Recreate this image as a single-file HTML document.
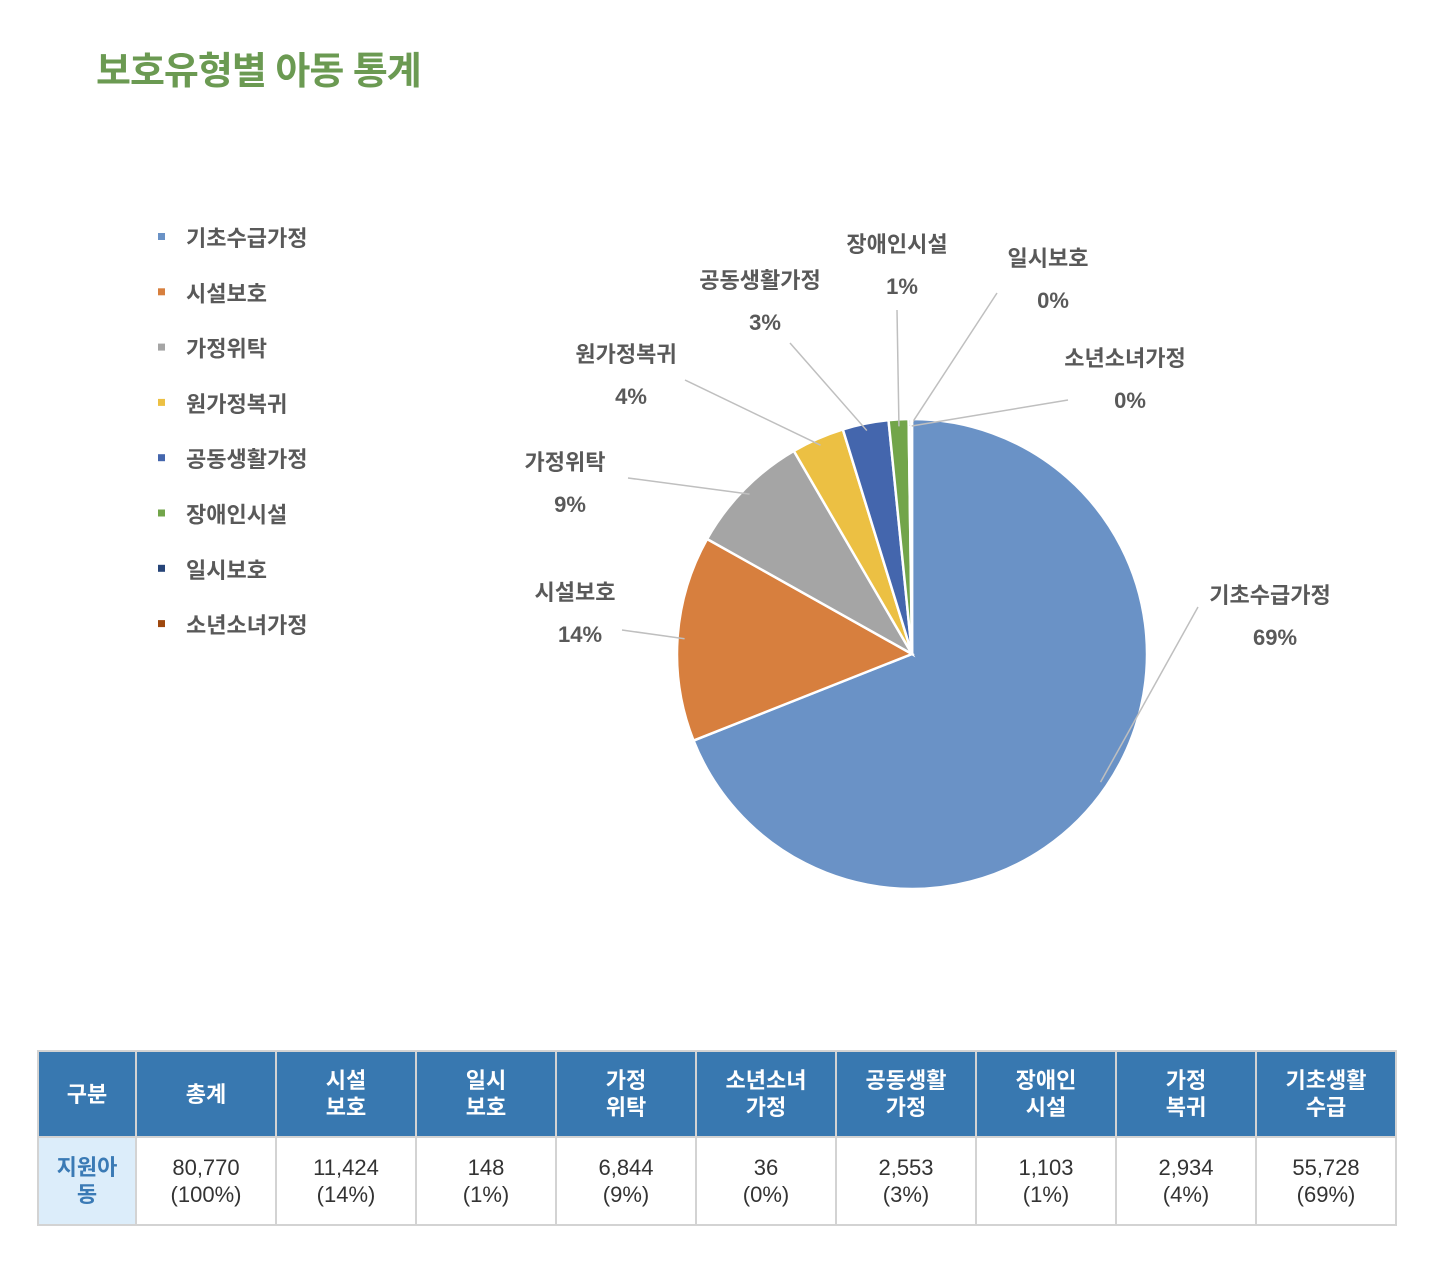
<!DOCTYPE html>
<html><head><meta charset="utf-8"><style>
body{margin:0;width:1436px;height:1274px;background:#fff;font-family:"Liberation Sans","Noto Sans CJK KR",sans-serif;position:relative;overflow:hidden}
#title{position:absolute;left:96px;top:40px;font-size:38px;font-weight:bold;color:#6b9a52;letter-spacing:-1px}
table{position:absolute;left:37px;top:1050px;border-collapse:collapse;table-layout:fixed}
td,th{border:2px solid #d3d3d3;text-align:center;font-size:22px;line-height:27px;padding:0}
th{background:#3878b0;color:#fff;height:84px;font-weight:bold}
td{height:86px;color:#333}
td.first{background:#dcedfa;color:#3a7ab5;font-weight:bold}
</style></head><body>
<div id="title">보호유형별 아동 통계</div>
<svg id="chart" width="1436" height="1000" style="position:absolute;left:0;top:0"></svg>
<table>
<colgroup><col style="width:98px"><col span="9" style="width:140px"></colgroup>
<tr><th>구분</th><th>총계</th><th>시설<br>보호</th><th>일시<br>보호</th><th>가정<br>위탁</th><th>소년소녀<br>가정</th><th>공동생활<br>가정</th><th>장애인<br>시설</th><th>가정<br>복귀</th><th>기초생활<br>수급</th></tr>
<tr><td class="first">지원아<br>동</td><td>80,770<br>(100%)</td><td>11,424<br>(14%)</td><td>148<br>(1%)</td><td>6,844<br>(9%)</td><td>36<br>(0%)</td><td>2,553<br>(3%)</td><td>1,103<br>(1%)</td><td>2,934<br>(4%)</td><td>55,728<br>(69%)</td></tr>
</table>
<script>
const categories=["기초수급가정","시설보호","가정위탁","원가정복귀","공동생활가정","장애인시설","일시보호","소년소녀가정"];
const values=[55728,11424,6844,2934,2553,1103,148,36];
const pctLabels=["69%","14%","9%","4%","3%","1%","0%","0%"];
const colors=["#6a92c6","#d77f3e","#a5a5a5","#ecc043","#4466ad","#72a54a","#264478","#9e480e"];
// label layout (positions only)
const labelPos=[[1270,603,1198,607],[575,600,622,630],[565,470,628,478],[626,362,685,380],[760,288,790,343],[897,252,897,310],[1048,266,997,293],[1125,366,1068,400]];
const NS="http://www.w3.org/2000/svg",svg=document.getElementById('chart');
const cx=912,cy=654,r=235;
const total=values.reduce((a,b)=>a+b,0);
function pt(a,rr){return [cx+rr*Math.sin(a),cy-rr*Math.cos(a)];}
function mk(t,attrs){const e=document.createElementNS(NS,t);for(const k in attrs)e.setAttribute(k,attrs[k]);svg.appendChild(e);return e;}
let a0=0;
values.forEach((v,i)=>{
  const a1=a0+v/total*2*Math.PI;
  const p0=pt(a0,r),p1=pt(a1,r),large=(a1-a0)>Math.PI?1:0;
  const p=mk('path',{d:`M${cx},${cy}L${p0[0]},${p0[1]}A${r},${r} 0 ${large} 1 ${p1[0]},${p1[1]}Z`,fill:colors[i],stroke:'#fff','stroke-width':2.5});
  
  
  const m=pt((a0+a1)/2,r*0.97),L=labelPos[i];
  const ln=mk('line',{x1:L[2],y1:L[3],x2:m[0],y2:m[1],stroke:'#bfbfbf','stroke-width':1.5});
  
  
  const t1=mk('text',{x:L[0],y:L[1],'text-anchor':'middle','font-size':22,'font-weight':'bold',fill:'#595959'});
  t1.textContent=categories[i];
  
  
  const t2=mk('text',{x:L[0]+5,y:L[1]+42,'text-anchor':'middle','font-size':22,'font-weight':'bold',fill:'#595959'});
  t2.textContent=pctLabels[i];
  
  
  // legend
  const y=238+i*55.3;
  const sq=mk('rect',{x:158,y:y-5,width:7,height:7,fill:colors[i]});
  
  
  const lt=mk('text',{x:186,y:y+8,'font-size':22,'font-weight':'bold',fill:'#595959'});
  lt.textContent=categories[i];
  
  
  a0=a1;
});
</script>
</body></html>
